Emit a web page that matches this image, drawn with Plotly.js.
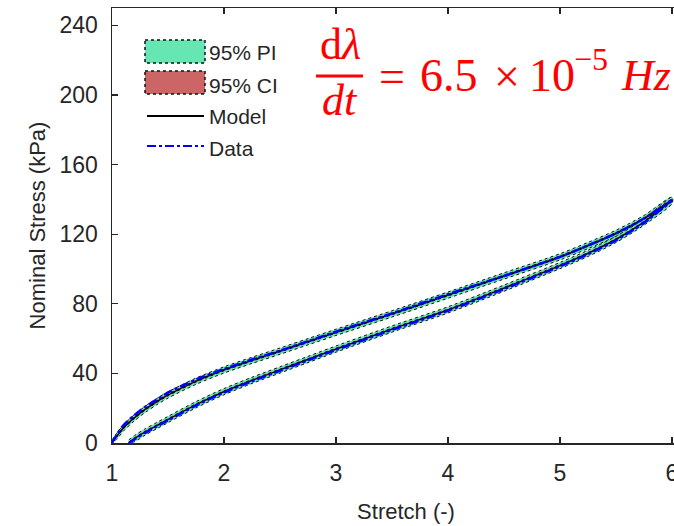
<!DOCTYPE html>
<html>
<head>
<meta charset="utf-8">
<script src="https://cdn.plot.ly/plotly-3.0.1.min.js"></script>
<style>
html,body{margin:0;padding:0;overflow:hidden;background:#fff;}
#chart{width:720px;height:526px;}
</style>
</head>
<body>
<div id="chart"></div>
<script>
// Loading branch
const loadX     = [1,1.05,1.1,1.2,1.3,1.4,1.5,1.75,2,2.25,2.5,2.75,3,3.5,4,4.5,5,5.25,5.5,5.75,6];
const loadModel = [0,4.5,8.5,14.5,19.5,23.8,27.6,35.5,42,47.5,52.8,58.2,63.6,74.2,85,96,107,113.5,120.5,129,139.5];
const loadData  = [0,5.5,10,16,21,25,29,36.5,42.5,48,53,58.5,64,74.5,85.5,96,107,113.5,120.5,129,139.5];
const loadPILo  = [0,2.7,6.7,12.7,17.7,22,25.8,33.7,40.2,45.7,51,56.4,61.8,72.4,83.2,94.2,105.2,111.7,118.7,127.2,137.7];
const loadPIHi  = [1.8,6.3,10.3,16.3,21.3,25.6,29.4,37.3,43.8,49.3,54.6,60,65.4,76,86.8,97.8,108.8,115.3,122.3,130.8,141.3];
const loadCILo  = [0,4,8,14,19,23.3,27.1,35,41.5,47,52.3,57.7,63.1,73.7,84.5,95.5,106.5,113,120,128.5,139];
const loadCIHi  = [0.5,5,9,15,20,24.3,28.1,36,42.5,48,53.3,58.7,64.1,74.7,85.5,96.5,107.5,114,121,129.5,140];
// Unloading branch
const unloadX     = [1.15,1.2,1.3,1.4,1.5,1.75,2,2.25,2.5,2.75,3,3.5,4,4.5,5,5.25,5.5,5.75,6];
const unloadModel = [0,2.5,6.5,10,13.5,22,29.5,36,42,48,54,65.5,76.5,89,102,109,117,127,139.5];
const unloadData  = [0,2,6,9.5,13,21.5,29,35.5,41.5,47.5,53.5,65,76,88.5,101.5,108.5,116.5,126.5,139.5];
const unloadPILo  = [0,0.7,4.7,8.2,11.7,20.2,27.7,34.2,40.2,46.2,52.2,63.7,74.7,87.2,100.2,107.2,115.2,125.2,137.7];
const unloadPIHi  = [1.8,4.3,8.3,11.8,15.3,23.8,31.3,37.8,43.8,49.8,55.8,67.3,78.3,90.8,103.8,110.8,118.8,128.8,141.3];
const unloadCILo  = [0,2,6,9.5,13,21.5,29,35.5,41.5,47.5,53.5,65,76,88.5,101.5,108.5,116.5,126.5,139];
const unloadCIHi  = [0.5,3,7,10.5,14,22.5,30,36.5,42.5,48.5,54.5,66,77,89.5,102.5,109.5,117.5,127.5,140];

const xTicks = [1,2,3,4,5,6];
const yTicks = [0,40,80,120,160,200,240];
const legendLabels = ['95% PI','95% CI','Model','Data'];

const PI_COLOR = '#66e6b2';
const CI_COLOR = '#cc6666';
const RED = '#ff0000';

function band(x, lo, hi, color, name) {
  return {
    x: x.concat(x.slice().reverse()),
    y: hi.concat(lo.slice().reverse()),
    type: 'scatter', mode: 'lines', fill: 'toself',
    fillcolor: color,
    line: {color: '#111', width: 1, dash: 'dot', shape: 'spline', smoothing: 0.8},
    name: name, showlegend: false, hoverinfo: 'skip'
  };
}
function curve(x, y, color, width, dash, name) {
  return {
    x: x, y: y, type: 'scatter', mode: 'lines',
    line: {color: color, width: width, dash: dash, shape: 'spline', smoothing: 0.8},
    name: name, showlegend: false
  };
}

const traces = [
  band(loadX, loadPILo, loadPIHi, PI_COLOR, legendLabels[0]),
  band(unloadX, unloadPILo, unloadPIHi, PI_COLOR, legendLabels[0]),
  band(loadX, loadCILo, loadCIHi, CI_COLOR, legendLabels[1]),
  band(unloadX, unloadCILo, unloadCIHi, CI_COLOR, legendLabels[1]),
  curve(loadX, loadModel, '#000', 1.3, 'solid', legendLabels[2]),
  curve(unloadX, unloadModel, '#000', 1.3, 'solid', legendLabels[2]),
  curve(loadX, loadData, '#0000ff', 2.5, 'dashdot', legendLabels[3]),
  curve(unloadX, unloadData, '#0000ff', 2.5, 'dashdot', legendLabels[3])
];

const AX = '#262626';
const FONT = 'Liberation Sans, Arial, sans-serif';
const SERIF = 'Liberation Serif, Times New Roman, serif';
function px(x){ return (x-112)/588; }
function py(y){ return (443-y)/435; }

// legend drawn as shapes + text (MATLAB-style wide swatches)
const legendShapes = [
  {type:'rect', xref:'paper', yref:'paper', x0:px(145), x1:px(205), y0:py(40), y1:py(63),
   fillcolor: PI_COLOR, line:{color:'#111', width:1.5, dash:'dot'}},
  {type:'rect', xref:'paper', yref:'paper', x0:px(145), x1:px(205), y0:py(71), y1:py(94),
   fillcolor: CI_COLOR, line:{color:'#111', width:1.5, dash:'dot'}},
  {type:'line', xref:'paper', yref:'paper', x0:px(147), x1:px(204), y0:py(116), y1:py(116),
   line:{color:'#000', width:2}},
  {type:'line', xref:'paper', yref:'paper', x0:px(147), x1:px(204), y0:py(146), y1:py(146),
   line:{color:'#0000ff', width:2, dash:'dashdot'}}
];
const legendY = [53, 85, 117, 148];
const legendAnn = legendLabels.map((t, i) => ({
  xref:'paper', yref:'paper', x:px(207), y:py(legendY[i]), xanchor:'left', yanchor:'middle',
  text:t, showarrow:false, font:{family:FONT, size:21, color:AX}
}));

function mathText(t, xLeft, yMid, size, anchor) {
  return {xref:'paper', yref:'paper', x:px(xLeft), y:py(yMid), xanchor:anchor || 'left', yanchor:'middle',
          text:t, showarrow:false, font:{family:SERIF, size:size, color:RED}};
}

const layout = {
  width: 720, height: 526,
  margin: {l: 112, r: 20, t: 8, b: 83},
  paper_bgcolor: '#fff', plot_bgcolor: '#fff',
  font: {family: FONT, color: AX},
  showlegend: false,
  xaxis: {
    range: [1, 6.25], tickvals: xTicks, ticktext: xTicks.map(String),
    ticks: 'inside', ticklen: 6, tickcolor: AX, tickwidth: 1.2,
    showline: true, linecolor: AX, linewidth: 1.5, mirror: 'ticks',
    showgrid: false, zeroline: false,
    tickfont: {family: FONT, size: 23, color: AX},
    ticklabelstandoff: 9,
    title: {text: 'Stretch (-)', font: {family: FONT, size: 22, color: AX}, standoff: 18}
  },
  yaxis: {
    range: [0, 250], tickvals: yTicks, ticktext: yTicks.map(String),
    ticks: 'inside', ticklen: 6, tickcolor: AX, tickwidth: 1.2,
    showline: true, linecolor: AX, linewidth: 1.5, mirror: 'ticks',
    showgrid: false, zeroline: false,
    tickfont: {family: FONT, size: 23, color: AX},
    ticklabelstandoff: 8,
    title: {text: 'Nominal Stress (kPa)', font: {family: FONT, size: 22, color: AX}, standoff: 8}
  },
  shapes: legendShapes.concat([
    {type: 'line', xref: 'paper', yref: 'paper', x0: px(316), x1: px(363), y0: py(76), y1: py(76),
     line: {color: RED, width: 3}}
  ]),
  annotations: legendAnn.concat([
    mathText('d<i>λ</i>', 340, 45, 44, 'center'),
    mathText('<i>dt</i>', 340, 100, 44, 'center'),
    mathText('=', 377, 76, 46),
    mathText('6.5', 418, 75, 46),
    mathText('×', 492, 76, 46),
    mathText('10', 527, 75, 46),
    mathText('−5', 572, 59, 32),
    mathText('<i>Hz</i>', 619, 75, 44)
  ])
};

Plotly.newPlot('chart', traces, layout, {displayModeBar: false, staticPlot: true});
</script>
</body>
</html>
